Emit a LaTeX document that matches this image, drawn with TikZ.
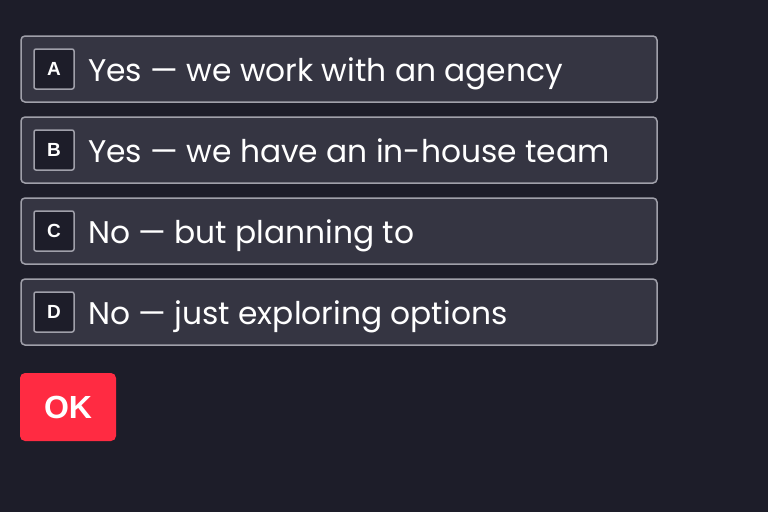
\documentclass[tikz,border=0pt]{standalone}
\usepackage{fontspec}
\setmainfont{Poppins}
\newfontfamily\keyfont{Liberation Sans}
\usetikzlibrary{positioning}
\definecolor{bgdark}{HTML}{1D1D29}
\definecolor{optfill}{HTML}{353542}
\definecolor{optline}{HTML}{A0A0AA}
\definecolor{okred}{HTML}{FF2B42}
\tikzstyle{option}=[draw=optline, fill=optfill, line width=1.5pt, rounded corners=4pt, minimum width=636pt, minimum height=66pt, inner sep=0pt]
\tikzstyle{keybox}=[draw=optline, fill=bgdark, line width=1.5pt, rounded corners=2pt, minimum size=40pt, inner sep=0pt, text=white, font=\keyfont\fontsize{19}{19}\selectfont\bfseries]
\tikzstyle{answer}=[anchor=base west, inner sep=0pt, text=white, font=\fontsize{31.3}{31.3}\selectfont]

\begin{document}
\begin{tikzpicture}[x=1pt,y=-1pt]
\fill[bgdark] (0,0) rectangle (768,512);
\foreach \k/\y/\t in {A/69/{Yes — we work with an agency},B/150/{Yes — we have an in-house team},C/231/{No — but planning to},D/312/{No — just exploring options}} {
	\node[option] (opt\k) at (339,\y) {};
	\node[keybox] (key\k) at (54,\y) {\k};
	\node[answer] (ans\k) at (88,\y+12.5) {\t};
}
\node[fill=okred, rounded corners=5pt, minimum width=96pt, minimum height=68pt, inner sep=0pt, text=white, font=\keyfont\fontsize{32}{32}\selectfont\bfseries] (ok) at (68,407) {OK};
\end{tikzpicture}
\end{document}
